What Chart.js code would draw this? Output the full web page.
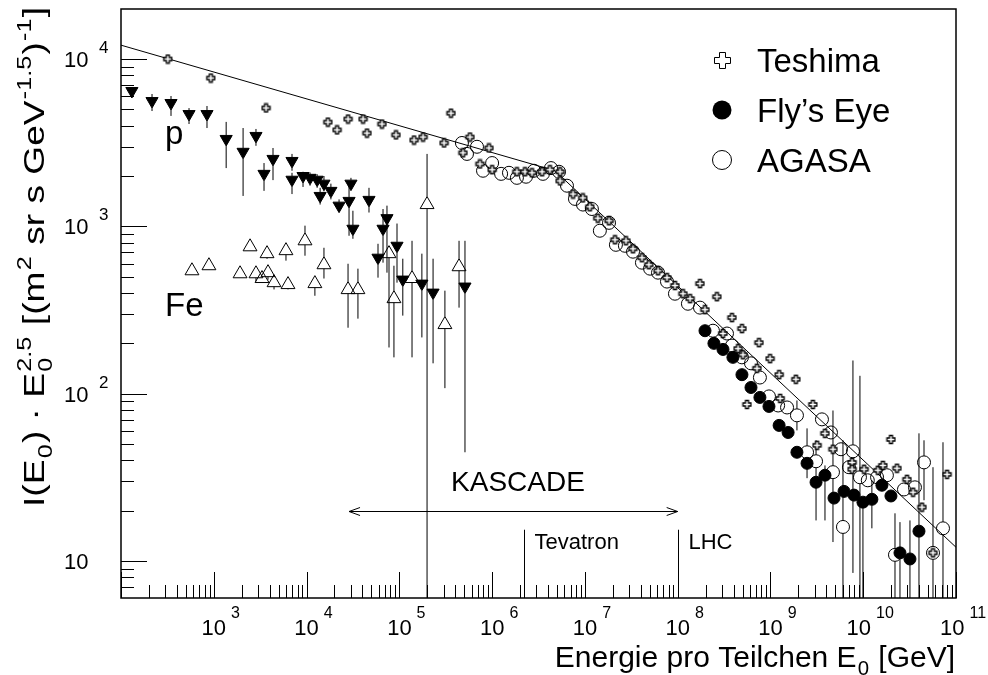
<!DOCTYPE html>
<html>
<head>
<meta charset="utf-8">
<script src="https://cdn.jsdelivr.net/npm/chart.js@4.4.1/dist/chart.umd.min.js"></script>
<style>
  html, body { margin: 0; padding: 0; background: #fff; }
  canvas { display: block; }
</style>
</head>
<body>
<canvas id="spectrum" width="988" height="675"></canvas>
<script>
'use strict';

// ── Data (energy in GeV, flux * E^2.5) ──────────────────────────────────
const teshimaE = [3.2e2, 9.3e2, 3.66e3, 1.70e4, 2.13e4, 2.8e4, 4.06e4, 4.48e4, 6.5e4, 9.2e4, 1.44e5, 1.80e5, 3.03e5, 3.6e5, 5.77e5, 4.85e5, 9.25e5, 7.4e5, 1.0e6, 1.85e6, 2.26e6, 2.69e6, 3.45e6, 4.2e6, 5.4e6, 5.4e6, 7.45e6, 9.5e6, 1.13e7, 1.38e7, 1.82e7, 2.11e7, 2.77e7, 3.3e7, 4.12e7, 4.9e7, 6.14e7, 7.67e7, 9.35e7, 1.14e8, 1.36e8, 1.74e8, 2.65e8, 1.97e8, 3.08e8, 3.85e8, 4.47e8, 4.93e8, 5.06e8, 5.58e8, 7.16e8, 7.52e8, 9.9e8, 1.24e9, 1.27e9, 1.88e9, 2.87e9, 3.18e9, 3.87e9, 4.72e9, 7.57e9, 7.57e9, 1.02e10, 1.44e10, 1.63e10, 1.99e10, 2.31e10, 2.96e10, 3.44e10, 4.3e10, 5.65e10, 8.0e10];
const teshimaI = [1.0e4, 7.7e3, 5.1e3, 4.2e3, 3.77e3, 4.38e3, 4.38e3, 3.61e3, 4.09e3, 3.52e3, 3.28e3, 3.42e3, 3.15e3, 4.75e3, 3.42e3, 2.75e3, 2.94e3, 2.36e3, 2.18e3, 2.12e3, 2.12e3, 2.09e3, 2.12e3, 2.18e3, 2.12e3, 1.87e3, 1.56e3, 1.48e3, 1.31e3, 1.12e3, 1.08e3, 832, 820, 735, 650, 590, 543, 494, 443, 396, 370, 455, 380, 318, 229, 285, 186, 245, 171, 86.3, 142, 202, 162, 130, 93.8, 122, 86.3, 49.2, 58.0, 46.6, 38.9, 35.4, 35.4, 34.9, 37.3, 53.3, 35.9, 30.8, 25.8, 21.0, 11.2, 33.0];

const flyE = [1.97e8, 2.46e8, 3.08e8, 3.94e8, 4.93e8, 6.17e8, 7.7e8, 9.64e8, 1.24e9, 1.55e9, 1.93e9, 2.48e9, 3.1e9, 3.87e9, 4.84e9, 6.21e9, 7.95e9, 9.93e9, 1.24e10, 1.59e10, 1.99e10, 2.49e10, 3.19e10, 3.99e10];
const flyI = [238, 200, 184, 165, 130, 109, 95.1, 84.0, 64.7, 58.7, 44.7, 38.4, 29.6, 32.6, 23.8, 26.1, 24.8, 22.5, 23.4, 28.4, 24.5, 11.2, 10.3, 15.1];
const flyErrLo = [null, null, null, null, null, null, null, null, null, null, null, null, null, 17.5, null, null, null, 1, 15.7, null, null, 1, 1, 1];
const flyErrHi = [null, null, null, null, null, null, null, null, null, null, null, null, null, 37.3, null, null, null, 22.5, 30.4, null, null, 17.1, 17.5, 58];

const agasaE = [4.73e5, 6.87e5, 5.36e5, 1.0e6, 7.98e5, 1.25e6, 1.52e6, 1.85e6, 2.32e6, 2.83e6, 3.53e6, 4.31e6, 5.26e6, 6.41e6, 7.82e6, 9.53e6, 1.19e7, 1.45e7, 1.82e7, 2.16e7, 2.7e7, 3.3e7, 4.12e7, 5.04e7, 6.14e7, 7.67e7, 9.35e7, 1.29e8, 1.74e8, 2.4e8, 3.4e8, 3.85e8, 4.93e8, 6.17e8, 7.7e8, 9.64e8, 1.21e9, 1.51e9, 1.93e9, 2.48e9, 3.1e9, 3.59e9, 4.49e9, 4.72e9, 5.76e9, 6.05e9, 7.02e9, 7.75e9, 9.22e9, 1.12e10, 1.41e10, 1.8e10, 2.2e10, 2.75e10, 3.61e10, 4.52e10, 5.65e10, 7.24e10];
const agasaI = [3.15e3, 2.99e3, 2.71e3, 2.39e3, 2.15e3, 2.06e3, 2.09e3, 1.95e3, 1.98e3, 2.15e3, 2.06e3, 2.23e3, 2.12e3, 1.75e3, 1.46e3, 1.35e3, 1.27e3, 942, 1.05e3, 776, 766, 706, 607, 559, 529, 468, 396, 345, 327, 238, 229, 194, 165, 152, 125, 96.4, 85.1, 82.8, 74.3, 44.7, 39.5, 70.3, 58.7, 34.0, 46.6, 16.0, 36.4, 45.3, 31.7, 30.4, 31.7, 32.6, 10.9, 26.8, 27.6, 38.9, 11.2, 15.7];
const agasaErrLo = [null, null, null, null, null, null, null, null, null, null, null, null, null, null, null, null, null, null, null, null, null, null, null, null, null, null, null, null, null, null, null, null, null, null, null, null, null, null, 60.4, 31.3, 17.5, null, null, 13.0, null, 1, null, 8.5, 1, null, null, null, 1, null, null, 23.1, 1, 1];
const agasaErrHi = [null, null, null, null, null, null, null, null, null, null, null, null, null, null, null, null, null, null, null, null, null, null, null, null, null, null, null, null, null, null, null, null, null, null, null, null, null, null, 91.2, 62.1, 52.7, null, null, 79.4, null, 52.7, null, 158, 128, null, null, null, 19.3, null, null, 52.7, 36.4, 51.3];

// KASCADE protons
const pE = [131, 216, 346, 541, 845, 1.36e3, 2.07e3, 2.85e3, 3.48e3, 4.35e3, 6.97e3, 6.97e3, 9.16e3, 1.09e4, 1.30e4, 1.40e4, 1.54e4, 1.83e4, 2.24e4, 2.87e4, 3.01e4, 3.16e4, 4.71e4, 6.67e4, 7.36e4, 9.44e4, 5.89e4, 1.09e5, 1.75e5, 2.31e5, 5.1e5];
const pI = [6.44e3, 5.61e3, 5.46e3, 4.69e3, 4.69e3, 3.33e3, 2.79e3, 3.47e3, 2.06e3, 2.53e3, 2.46e3, 1.90e3, 2.0e3, 1.95e3, 1.90e3, 1.52e3, 1.80e3, 1.63e3, 1.33e3, 1.42e3, 1.80e3, 968, 1.44e3, 968, 1.12e3, 766, 650, 481, 455, 402, 437];
const pErrLo = [null, 4.89e3, 4.57e3, 4.09e3, 3.87e3, 2.23e3, 1.52e3, 3.03e3, 1.63e3, 1.89e3, 2.15e3, 1.56e3, 1.72e3, 1.75e3, 1.70e3, 1.35e3, 1.62e3, 1.45e3, 1.22e3, 879, 1.65e3, 843, 1.21e3, 607, 529, 461, 494, 293, 217, 152, 44.7];
const pErrHi = [null, 6.18e3, 6.01e3, 5.09e3, 5.24e3, 4.21e3, 3.87e3, 3.82e3, 2.39e3, 2.94e3, 2.71e3, 2.09e3, 2.12e3, 2.10e3, 2.05e3, 1.70e3, 2.0e3, 1.80e3, 1.45e3, 1.75e3, 1.95e3, 1.24e3, 1.70e3, 1.27e3, 1.33e3, 1.04e3, 787, 641, 687, 641, 820];

// KASCADE iron
const feE = [582, 887, 1.92e3, 2.46e3, 2.85e3, 3.31e3, 3.75e3, 3.84e3, 4.46e3, 6.0e3, 6.31e3, 9.62e3, 1.23e4, 1.54e4, 2.8e4, 3.58e4, 7.74e4, 8.75e4, 1.37e5, 1.99e5, 3.1e5, 4.4e5];
const feI = [543, 582, 521, 755, 521, 488, 687, 529, 461, 716, 449, 820, 455, 590, 419, 419, 687, 370, 488, 1.35e3, 259, 574];
const feErrLo = [null, null, null, null, 470, null, 640, 480, 420, 624, 420, 668, 385, 488, 248, 281, 189, 165, 165, 1, 108, 327];
const feErrHi = [null, null, null, null, 580, null, 740, 590, 500, 798, 480, 1.01e3, 507, 745, 598, 559, 745, 582, 820, 2.71e3, 413, 820];

// broken power-law fit
const fitE = [1e2, 4.76e6, 1e11];
const fitI = [12100, 2150, 12.1];

// annotations (data coordinates)
const kascadeRange = [2.87e4, 1.0e8];
const kascadeArrowI = 20;
const kascadeLabel = { e: 1.9e6, i: 26.1, text: 'KASCADE' };
const accelerators = [
  { name: 'Tevatron', e: 2.2e6 },
  { name: 'LHC', e: 1.0e8 }
];
const acceleratorTopI = 15.4;
const acceleratorLabelI = 11.8;
const particleLabels = [
  { text: 'p', e: 298, i: 3.11e3 },
  { text: 'Fe', e: 298, i: 293 }
];

// axis ticks
const xMin = 1e2, xMax = 1e11;
const yMin = 6.02, yMax = 1.99e4;
const xLabelExps = [3, 4, 5, 6, 7, 8, 9, 10, 11];
const yLabelExps = [1, 2, 3, 4];

const legendNames = ['Teshima', 'Fly\u2019s Eye', 'AGASA'];

// ── Helpers ─────────────────────────────────────────────────────────────
const FAMILY = '"Liberation Sans", Arial, Helvetica, sans-serif';
const font = px => px + 'px ' + FAMILY;
const pts = (xs, ys) => xs.map((x, i) => ({ x, y: ys[i] }));

function crossPath(ctx, x, y, a, t) {
  const p = [[-t, -a], [t, -a], [t, -t], [a, -t], [a, t], [t, t], [t, a], [-t, a], [-t, t], [-a, t], [-a, -t], [-t, -t]];
  ctx.beginPath();
  p.forEach(([dx, dy], k) => k ? ctx.lineTo(x + dx, y + dy) : ctx.moveTo(x + dx, y + dy));
  ctx.closePath();
}

function makeCross() {
  const c = document.createElement('canvas');
  c.width = 11; c.height = 11;
  const g = c.getContext('2d');
  crossPath(g, 5.5, 5.5, 4, 1.5);
  g.fillStyle = '#fff';
  g.fill();
  g.strokeStyle = '#000';
  g.lineWidth = 1.3;
  g.stroke();
  return c;
}

// text with sub/superscripts; parts: [text, 'n'|'sub'|'sup'|'subsup']
function rich(ctx, parts, x, y, size, draw) {
  let cx = x;
  const small = size * 0.68;
  for (const [t, mode] of parts) {
    if (mode === 'n') {
      ctx.font = font(size);
      if (draw) ctx.fillText(t, cx, y);
      cx += ctx.measureText(t).width;
    } else if (mode === 'sub' || mode === 'sup') {
      ctx.font = font(small);
      const dy = mode === 'sub' ? size * 0.25 : -size * 0.42;
      if (draw) ctx.fillText(t, cx + 1, y + dy);
      cx += ctx.measureText(t).width + 2;
    } else {
      ctx.font = font(small);
      if (draw) {
        ctx.fillText(t[0], cx + 1, y + size * 0.25);
        ctx.fillText(t[1], cx + 1, y - size * 0.42);
      }
      cx += Math.max(ctx.measureText(t[0]).width, ctx.measureText(t[1]).width) + 2;
    }
  }
  return cx - x;
}

// ── Plugin: error bars, frame, ticks, labels, legend ─────────────────────
const errorSets = [
  { ds: 1, lo: flyErrLo, hi: flyErrHi, up: 6, down: 6 },
  { ds: 2, lo: agasaErrLo, hi: agasaErrHi, up: 6.5, down: 6.5 },
  { ds: 3, lo: pErrLo, hi: pErrHi, up: 3.5, down: 7 },
  { ds: 4, lo: feErrLo, hi: feErrHi, up: 8, down: 4 }
];

const physicsDecor = {
  id: 'physicsDecor',
  beforeDatasetsDraw(chart) {
    const { ctx, chartArea: a, scales: { x, y } } = chart;
    ctx.save();
    ctx.beginPath();
    ctx.rect(a.left, a.top, a.right - a.left, a.bottom - a.top);
    ctx.clip();
    ctx.strokeStyle = '#000';
    ctx.lineWidth = 1;
    errorSets.forEach(set => {
      const data = chart.data.datasets[set.ds].data;
      data.forEach((pt, i) => {
        if (set.lo[i] == null) return;
        const px = x.getPixelForValue(pt.x);
        const py = y.getPixelForValue(pt.y);
        const yHi = y.getPixelForValue(set.hi[i]);
        const yLo = Math.min(y.getPixelForValue(set.lo[i]), a.bottom + 5);
        ctx.beginPath();
        if (yHi < py - set.up) { ctx.moveTo(px, yHi); ctx.lineTo(px, py - set.up); }
        if (yLo > py + set.down) { ctx.moveTo(px, py + set.down); ctx.lineTo(px, yLo); }
        ctx.stroke();
      });
    });
    ctx.restore();
  },
  afterDatasetsDraw(chart) {
    const { ctx, chartArea: a, scales: { x, y } } = chart;
    ctx.save();
    ctx.strokeStyle = '#000';
    ctx.fillStyle = '#000';

    // ticks
    ctx.lineWidth = 1;
    ctx.beginPath();
    for (let d = 2; d <= 11; d++) {
      for (let m = 1; m <= 9; m++) {
        const v = m * Math.pow(10, d);
        if (v > xMax * 1.001) break;
        const px = Math.round(x.getPixelForValue(v)) + 0.5;
        const len = m === 1 ? 26 : 13;
        ctx.moveTo(px, a.bottom);
        ctx.lineTo(px, a.bottom - len);
      }
    }
    for (let d = 0; d <= 4; d++) {
      for (let m = 1; m <= 9; m++) {
        const v = m * Math.pow(10, d);
        if (v < yMin || v > yMax) continue;
        const py = Math.round(y.getPixelForValue(v)) + 0.5;
        const len = m === 1 ? 26 : 13;
        ctx.moveTo(a.left, py);
        ctx.lineTo(a.left + len, py);
      }
    }
    ctx.stroke();

    // frame
    ctx.lineWidth = 1.5;
    ctx.strokeRect(a.left, a.top, a.right - a.left, a.bottom - a.top);

    // x tick labels
    ctx.textBaseline = 'alphabetic';
    ctx.textAlign = 'left';
    xLabelExps.forEach(n => {
      const px = x.getPixelForValue(Math.pow(10, n));
      ctx.font = font(22);
      const wb = ctx.measureText('10').width;
      ctx.font = font(16);
      const we = ctx.measureText(String(n)).width;
      const left = px + 7 - (wb + 5 + we) / 2;
      ctx.font = font(22);
      ctx.fillText('10', left, a.bottom + 37);
      ctx.font = font(16);
      ctx.fillText(String(n), left + wb + 5, a.bottom + 20);
    });

    // y tick labels
    yLabelExps.forEach(n => {
      const py = y.getPixelForValue(Math.pow(10, n));
      ctx.font = font(22);
      ctx.fillText('10', 64, py + 8);
      if (n > 1) {
        ctx.font = font(17);
        ctx.fillText(String(n), 99, py - 6);
      }
    });

    // KASCADE range arrow
    const ya = Math.round(y.getPixelForValue(kascadeArrowI)) + 0.5;
    const xa = x.getPixelForValue(kascadeRange[0]);
    const xb = x.getPixelForValue(kascadeRange[1]);
    ctx.lineWidth = 1;
    ctx.beginPath();
    ctx.moveTo(xa, ya); ctx.lineTo(xb, ya);
    ctx.moveTo(xa + 11, ya - 4); ctx.lineTo(xa, ya); ctx.lineTo(xa + 11, ya + 4);
    ctx.moveTo(xb - 11, ya - 4); ctx.lineTo(xb, ya); ctx.lineTo(xb - 11, ya + 4);
    ctx.stroke();
    ctx.font = font(28);
    ctx.textAlign = 'center';
    ctx.fillText(kascadeLabel.text, x.getPixelForValue(kascadeLabel.e), y.getPixelForValue(kascadeLabel.i));

    // accelerator markers
    ctx.textAlign = 'left';
    ctx.font = font(22);
    accelerators.forEach(acc => {
      const px = Math.round(x.getPixelForValue(acc.e)) + 0.5;
      ctx.beginPath();
      ctx.moveTo(px, y.getPixelForValue(acceleratorTopI));
      ctx.lineTo(px, a.bottom);
      ctx.stroke();
      ctx.fillText(acc.name, px + 10, y.getPixelForValue(acceleratorLabelI));
    });

    // particle labels
    ctx.font = font(33);
    particleLabels.forEach(l => {
      ctx.fillText(l.text, x.getPixelForValue(l.e), y.getPixelForValue(l.i));
    });

    // legend
    const lx = a.left + 601, ly = [60, 110, 160];
    crossPath(ctx, lx + 0.5, ly[0] + 0.5, 8, 3);
    ctx.stroke();
    ctx.beginPath();
    ctx.arc(lx, ly[1], 9.5, 0, Math.PI * 2);
    ctx.fill();
    ctx.beginPath();
    ctx.arc(lx, ly[2], 9.5, 0, Math.PI * 2);
    ctx.stroke();
    ctx.font = font(33);
    legendNames.forEach((name, k) => ctx.fillText(name, lx + 35, ly[k] + 12));

    // axis titles
    const xTitle = [['Energie pro Teilchen E', 'n'], ['0', 'sub'], [' [GeV]', 'n']];
    const xw = rich(ctx, xTitle, 0, 0, 30, false);
    rich(ctx, xTitle, 955 - xw, 667, 30, true);

    const yTitle = [['I(E', 'n'], ['0', 'sub'], [') \u00b7 E', 'n'], [['0', '2.5'], 'subsup'],
      [' [(m', 'n'], ['2', 'sup'], [' sr s GeV', 'n'], ['-1.5', 'sup'], [')', 'n'], ['-1', 'sup'], [']', 'n']];
    const yw = rich(ctx, yTitle, 0, 0, 30, false);
    ctx.translate(44, 507);
    ctx.rotate(-Math.PI / 2);
    ctx.scale(500 / yw, 1);
    rich(ctx, yTitle, 0, 0, 30, true);
    ctx.restore();
  }
};

// ── Chart ───────────────────────────────────────────────────────────────
const crossImg = makeCross();

new Chart(document.getElementById('spectrum').getContext('2d'), {
  type: 'scatter',
  data: {
    datasets: [
      { label: 'Teshima', data: pts(teshimaE, teshimaI), pointStyle: crossImg, pointRadius: 4 },
      { label: 'Fly\u2019s Eye', data: pts(flyE, flyI), pointStyle: 'circle', pointRadius: 6,
        backgroundColor: '#000', borderColor: '#000', borderWidth: 1 },
      { label: 'AGASA', data: pts(agasaE, agasaI), pointStyle: 'circle', pointRadius: 6.5,
        backgroundColor: 'rgba(0,0,0,0)', borderColor: '#000', borderWidth: 1 },
      { label: 'p', data: pts(pE, pI), pointStyle: 'triangle', rotation: 180, pointRadius: 7,
        backgroundColor: '#000', borderColor: '#000', borderWidth: 1 },
      { label: 'Fe', data: pts(feE, feI), pointStyle: 'triangle', pointRadius: 8,
        backgroundColor: 'rgba(0,0,0,0)', borderColor: '#000', borderWidth: 1 },
      { label: 'fit', type: 'line', data: pts(fitE, fitI), borderColor: '#000', borderWidth: 1,
        pointRadius: 0, fill: false, tension: 0 }
    ]
  },
  options: {
    responsive: false,
    animation: false,
    devicePixelRatio: 1,
    events: [],
    layout: { padding: { left: 121, right: 32, top: 8, bottom: 77 } },
    plugins: { legend: { display: false }, tooltip: { enabled: false } },
    scales: {
      x: { type: 'logarithmic', min: xMin, max: xMax, display: false },
      y: { type: 'logarithmic', min: yMin, max: yMax, display: false }
    }
  },
  plugins: [physicsDecor]
});
</script>
</body>
</html>
